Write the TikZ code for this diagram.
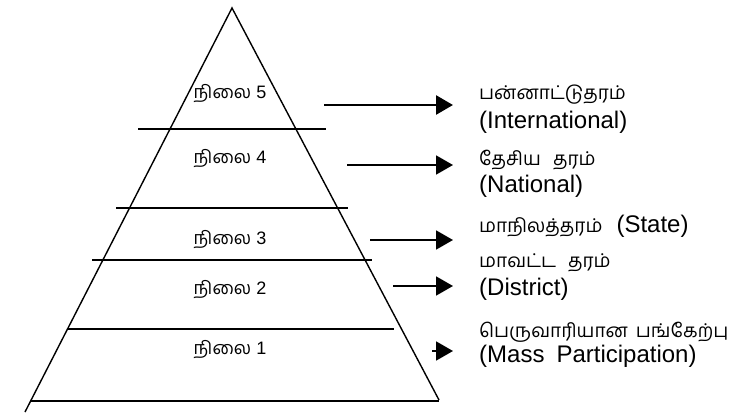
\documentclass[tikz,border=0pt]{standalone}
\usepackage{fontspec}
\setmainfont{Liberation Sans}
\newfontfamily\tamil[Script=Tamil]{Hind Madurai}
\usetikzlibrary{arrows.meta,calc}

\newcommand{\tm}[1]{{\fontsize{19}{22}\selectfont\tamil #1}}

\tikzset{
  lvl/.style={anchor=base, inner sep=0pt, font=\fontsize{18}{22}\selectfont},
  lbl/.style={anchor=base west, inner sep=0pt, font=\fontsize{24}{28}\selectfont},
  pyr/.style={line width=1.4pt},
  arr/.style={line width=1.9pt, -{Triangle[length=17pt,width=19pt]}}
}

\begin{document}
\begin{tikzpicture}[x=1pt, y=-1pt]
    \useasboundingbox (0,0) rectangle (754,414);

    % pyramid
    \coordinate (apex) at (232,8);
    \coordinate (bl) at (25,412);
    \coordinate (br) at (439,400);
    \draw[pyr] (bl) -- (apex) -- (br);
    \foreach \y/\xa/\xb in {129/138/326, 208/116/348, 260/92/372, 329/67/394, 401/30/439}
        \draw[pyr] (\xa,\y) -- (\xb,\y);

    % levels
    \foreach \n/\y in {5/99, 4/164, 3/244, 2/294, 1/354}
        \node[lvl] (lvl\n) at (230,\y) {{\tamil நிலை} \n};

    % arrows
    \foreach \n/\xs/\y in {5/324/105, 4/347/165, 3/370/240, 2/393/286, 1/432/351} {
        \coordinate (s\n) at (\xs,\y);
        \coordinate (e\n) at (453,\y);
    }
    \draw[arr, line width=2.6pt] (s5) -- (e5);
    \foreach \n in {4,3,2,1}
        \draw[arr] (s\n) -- (e\n);

    % tiers
    \node[lbl] (t5a) at (479,100) {\tm{பன்னாட்டுதரம்}};
    \node[lbl] (t5b) at (479,129) {(International)};
    \node[lbl] (t4a) at (479,166) {\tm{தேசிய\hspace{12pt}தரம்}};
    \node[lbl] (t4b) at (479,193) {(National)};
    \node[lbl] (t3a) at (479,232) {\tm{மாநிலத்தரம்}\hspace{14pt}(State)};
    \node[lbl] (t2a) at (479,267) {\tm{மாவட்ட\hspace{12pt}தரம்}};
    \node[lbl] (t2b) at (479,295) {(District)};
    \node[lbl] (t1a) at (479,337) {\tm{பெருவாரியான\hspace{8pt}பங்கேற்பு}};
    \node[lbl] (t1b) at (479,362) {(Mass\hspace{12pt}Participation)};
\end{tikzpicture}
\end{document}
